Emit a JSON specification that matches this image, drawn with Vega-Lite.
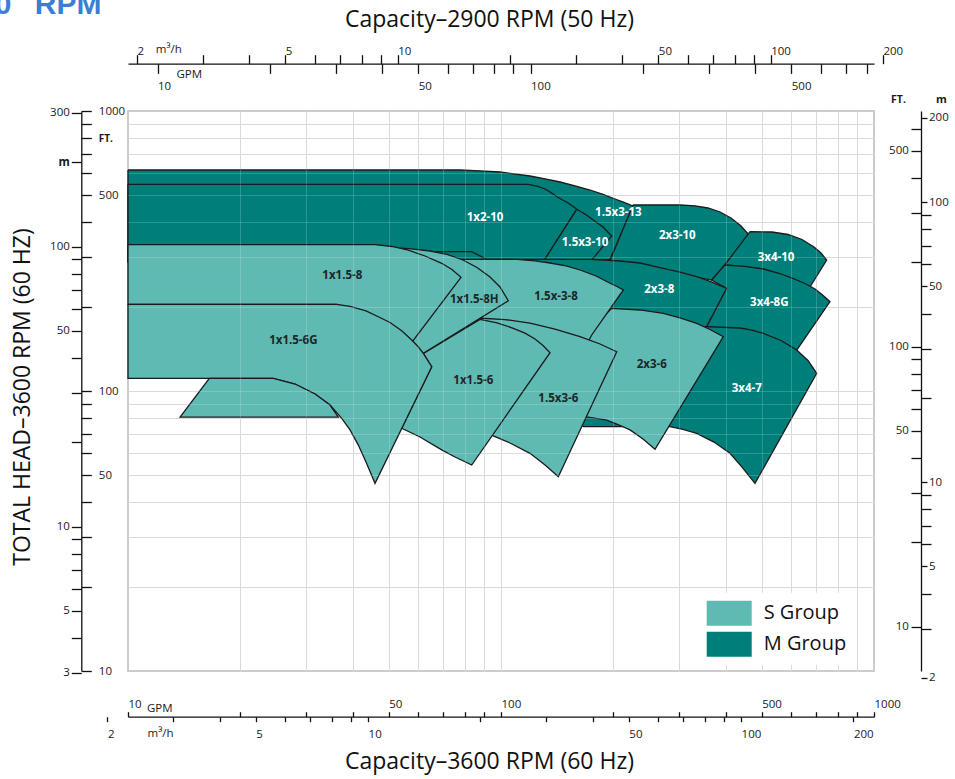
{
  "$schema": "https://vega.github.io/schema/vega-lite/v6.json",
  "width": 746,
  "height": 560,
  "autosize": {"type": "none"},
  "padding": {"left": 128, "top": 111, "right": 81, "bottom": 108},
  "background": "white",
  "config": {
    "view": {"stroke": "#cccccc", "strokeWidth": 2},
    "axis": {
      "labelFont": "Open Sans", "titleFont": "Open Sans", "labelFontSize": 11.5,
      "labelColor": "#1a1a1a", "titleColor": "#1a1a1a", "titleFontWeight": "normal",
      "domainColor": "#111111", "tickColor": "#111111", "domainWidth": 1.3, "tickWidth": 1.3,
      "labelFlush": false, "labelOverlap": false, "grid": false, "titlePadding": 0
    },
    "text": {"font": "Open Sans"}
  },
  "datasets": {
    "poly": [
      {"pump":"1.5x3-13","group":"M Group","i":0,"gpm":10,"ft":615.6},
      {"pump":"1.5x3-13","group":"M Group","i":1,"gpm":77.63,"ft":615.6},
      {"pump":"1.5x3-13","group":"M Group","i":2,"gpm":87.84,"ft":611.5},
      {"pump":"1.5x3-13","group":"M Group","i":3,"gpm":99.39,"ft":605.5},
      {"pump":"1.5x3-13","group":"M Group","i":4,"gpm":119.61,"ft":585.9},
      {"pump":"1.5x3-13","group":"M Group","i":5,"gpm":131.22,"ft":572.6},
      {"pump":"1.5x3-13","group":"M Group","i":6,"gpm":143.96,"ft":557.7},
      {"pump":"1.5x3-13","group":"M Group","i":7,"gpm":157.93,"ft":540.6},
      {"pump":"1.5x3-13","group":"M Group","i":8,"gpm":173.25,"ft":522.2},
      {"pump":"1.5x3-13","group":"M Group","i":9,"gpm":187.73,"ft":504.1},
      {"pump":"1.5x3-13","group":"M Group","i":10,"gpm":202.16,"ft":485.0},
      {"pump":"1.5x3-13","group":"M Group","i":11,"gpm":213.71,"ft":472.0},
      {"pump":"1.5x3-13","group":"M Group","i":12,"gpm":225.91,"ft":457.8},
      {"pump":"1.5x3-13","group":"M Group","i":13,"gpm":196.02,"ft":295.4},
      {"pump":"1.5x3-13","group":"M Group","i":14,"gpm":10,"ft":288.9},
      {"pump":"1.5x3-13","group":"M Group","i":15,"gpm":10,"ft":615.6},

      {"pump":"1x2-10","group":"M Group","i":0,"gpm":10,"ft":547.3},
      {"pump":"1x2-10","group":"M Group","i":1,"gpm":118.14,"ft":547.3},
      {"pump":"1x2-10","group":"M Group","i":2,"gpm":125.67,"ft":538.4},
      {"pump":"1x2-10","group":"M Group","i":3,"gpm":131.22,"ft":526.5},
      {"pump":"1x2-10","group":"M Group","i":4,"gpm":136.18,"ft":511.2},
      {"pump":"1x2-10","group":"M Group","i":5,"gpm":141.32,"ft":494.2},
      {"pump":"1x2-10","group":"M Group","i":6,"gpm":146.66,"ft":479.8},
      {"pump":"1x2-10","group":"M Group","i":7,"gpm":151.25,"ft":469.3},
      {"pump":"1x2-10","group":"M Group","i":8,"gpm":155.51,"ft":457.8},
      {"pump":"1x2-10","group":"M Group","i":9,"gpm":159.59,"ft":445.6},
      {"pump":"1x2-10","group":"M Group","i":10,"gpm":129.85,"ft":289.6},
      {"pump":"1x2-10","group":"M Group","i":11,"gpm":10,"ft":289.6},
      {"pump":"1x2-10","group":"M Group","i":12,"gpm":10,"ft":547.3},

      {"pump":"1.5x3-10","group":"M Group","i":0,"gpm":159.59,"ft":445.6},
      {"pump":"1.5x3-10","group":"M Group","i":1,"gpm":167.98,"ft":428.7},
      {"pump":"1.5x3-10","group":"M Group","i":2,"gpm":176.82,"ft":408.1},
      {"pump":"1.5x3-10","group":"M Group","i":3,"gpm":187.73,"ft":385.2},
      {"pump":"1.5x3-10","group":"M Group","i":4,"gpm":198.08,"ft":357.7},
      {"pump":"1.5x3-10","group":"M Group","i":5,"gpm":173.25,"ft":288.9},
      {"pump":"1.5x3-10","group":"M Group","i":6,"gpm":129.85,"ft":289.6},
      {"pump":"1.5x3-10","group":"M Group","i":7,"gpm":159.59,"ft":445.6},

      {"pump":"2x3-10","group":"M Group","i":0,"gpm":225.91,"ft":461.6},
      {"pump":"2x3-10","group":"M Group","i":1,"gpm":301.93,"ft":461.6},
      {"pump":"2x3-10","group":"M Group","i":2,"gpm":331.21,"ft":458.6},
      {"pump":"2x3-10","group":"M Group","i":3,"gpm":358.85,"ft":450.4},
      {"pump":"2x3-10","group":"M Group","i":4,"gpm":386.56,"ft":435.8},
      {"pump":"2x3-10","group":"M Group","i":5,"gpm":413.66,"ft":414.8},
      {"pump":"2x3-10","group":"M Group","i":6,"gpm":440.00,"ft":388.4},
      {"pump":"2x3-10","group":"M Group","i":7,"gpm":465.10,"ft":357.7},
      {"pump":"2x3-10","group":"M Group","i":8,"gpm":367.15,"ft":249.1},
      {"pump":"2x3-10","group":"M Group","i":9,"gpm":196.02,"ft":292.0},
      {"pump":"2x3-10","group":"M Group","i":10,"gpm":225.91,"ft":461.6},

      {"pump":"3x4-10","group":"M Group","i":0,"gpm":465.10,"ft":370.6},
      {"pump":"3x4-10","group":"M Group","i":1,"gpm":532.75,"ft":369.7},
      {"pump":"3x4-10","group":"M Group","i":2,"gpm":588.32,"ft":362.2},
      {"pump":"3x4-10","group":"M Group","i":3,"gpm":641.20,"ft":347.6},
      {"pump":"3x4-10","group":"M Group","i":4,"gpm":690.45,"ft":326.8},
      {"pump":"3x4-10","group":"M Group","i":5,"gpm":720.99,"ft":311.1},
      {"pump":"3x4-10","group":"M Group","i":6,"gpm":746.67,"ft":293.7},
      {"pump":"3x4-10","group":"M Group","i":7,"gpm":673.58,"ft":235.2},
      {"pump":"3x4-10","group":"M Group","i":8,"gpm":620.58,"ft":249.1},
      {"pump":"3x4-10","group":"M Group","i":9,"gpm":504.91,"ft":272.7},
      {"pump":"3x4-10","group":"M Group","i":10,"gpm":397.89,"ft":281.8},
      {"pump":"3x4-10","group":"M Group","i":11,"gpm":465.10,"ft":370.6},

      {"pump":"2x3-8","group":"M Group","i":0,"gpm":60.65,"ft":314.4},
      {"pump":"2x3-8","group":"M Group","i":1,"gpm":83.45,"ft":314.4},
      {"pump":"2x3-8","group":"M Group","i":2,"gpm":91.54,"ft":295.4},
      {"pump":"2x3-8","group":"M Group","i":3,"gpm":173.25,"ft":295.4},
      {"pump":"2x3-8","group":"M Group","i":4,"gpm":208.50,"ft":291.3},
      {"pump":"2x3-8","group":"M Group","i":5,"gpm":235.89,"ft":286.5},
      {"pump":"2x3-8","group":"M Group","i":6,"gpm":272.37,"ft":274.3},
      {"pump":"2x3-8","group":"M Group","i":7,"gpm":301.93,"ft":265.6},
      {"pump":"2x3-8","group":"M Group","i":8,"gpm":334.69,"ft":256.0},
      {"pump":"2x3-8","group":"M Group","i":9,"gpm":367.83,"ft":244.7},
      {"pump":"2x3-8","group":"M Group","i":10,"gpm":402.83,"ft":232.7},
      {"pump":"2x3-8","group":"M Group","i":11,"gpm":355.98,"ft":169.7},
      {"pump":"2x3-8","group":"M Group","i":12,"gpm":321.13,"ft":158.5},
      {"pump":"2x3-8","group":"M Group","i":13,"gpm":184.29,"ft":158.5},
      {"pump":"2x3-8","group":"M Group","i":14,"gpm":60.65,"ft":211.4},
      {"pump":"2x3-8","group":"M Group","i":15,"gpm":60.65,"ft":314.4},

      {"pump":"3x4-8G","group":"M Group","i":0,"gpm":397.89,"ft":281.8},
      {"pump":"3x4-8G","group":"M Group","i":1,"gpm":450.99,"ft":278.8},
      {"pump":"3x4-8G","group":"M Group","i":2,"gpm":504.91,"ft":272.7},
      {"pump":"3x4-8G","group":"M Group","i":3,"gpm":559.76,"ft":262.8},
      {"pump":"3x4-8G","group":"M Group","i":4,"gpm":620.58,"ft":249.1},
      {"pump":"3x4-8G","group":"M Group","i":5,"gpm":657.21,"ft":241.1},
      {"pump":"3x4-8G","group":"M Group","i":6,"gpm":694.72,"ft":231.4},
      {"pump":"3x4-8G","group":"M Group","i":7,"gpm":725.45,"ft":221.2},
      {"pump":"3x4-8G","group":"M Group","i":8,"gpm":762.05,"ft":208.4},
      {"pump":"3x4-8G","group":"M Group","i":9,"gpm":614.10,"ft":137.0},
      {"pump":"3x4-8G","group":"M Group","i":10,"gpm":504.91,"ft":160.7},
      {"pump":"3x4-8G","group":"M Group","i":11,"gpm":355.98,"ft":169.7},
      {"pump":"3x4-8G","group":"M Group","i":12,"gpm":402.83,"ft":232.7},
      {"pump":"3x4-8G","group":"M Group","i":13,"gpm":367.15,"ft":249.1},
      {"pump":"3x4-8G","group":"M Group","i":14,"gpm":397.89,"ft":281.8},

      {"pump":"3x4-7","group":"M Group","i":0,"gpm":355.98,"ft":169.7},
      {"pump":"3x4-7","group":"M Group","i":1,"gpm":437.25,"ft":167.9},
      {"pump":"3x4-7","group":"M Group","i":2,"gpm":470.87,"ft":164.9},
      {"pump":"3x4-7","group":"M Group","i":3,"gpm":504.91,"ft":160.7},
      {"pump":"3x4-7","group":"M Group","i":4,"gpm":563.22,"ft":151.5},
      {"pump":"3x4-7","group":"M Group","i":5,"gpm":620.58,"ft":140.1},
      {"pump":"3x4-7","group":"M Group","i":6,"gpm":665.38,"ft":128.5},
      {"pump":"3x4-7","group":"M Group","i":7,"gpm":702.06,"ft":115.7},
      {"pump":"3x4-7","group":"M Group","i":8,"gpm":479.70,"ft":46.8},
      {"pump":"3x4-7","group":"M Group","i":9,"gpm":442.71,"ft":53.5},
      {"pump":"3x4-7","group":"M Group","i":10,"gpm":411.12,"ft":59.9},
      {"pump":"3x4-7","group":"M Group","i":11,"gpm":372.40,"ft":65.7},
      {"pump":"3x4-7","group":"M Group","i":12,"gpm":334.69,"ft":70.6},
      {"pump":"3x4-7","group":"M Group","i":13,"gpm":307.57,"ft":73.0},
      {"pump":"3x4-7","group":"M Group","i":14,"gpm":283.86,"ft":74.6},
      {"pump":"3x4-7","group":"M Group","i":15,"gpm":166.23,"ft":74.6},
      {"pump":"3x4-7","group":"M Group","i":16,"gpm":157.93,"ft":80.1},
      {"pump":"3x4-7","group":"M Group","i":17,"gpm":184.29,"ft":158.5},
      {"pump":"3x4-7","group":"M Group","i":18,"gpm":355.98,"ft":169.7},

      {"pump":"2x3-6","group":"S Group","i":0,"gpm":198.08,"ft":197.4},
      {"pump":"2x3-6","group":"S Group","i":1,"gpm":235.89,"ft":194.7},
      {"pump":"2x3-6","group":"S Group","i":2,"gpm":272.37,"ft":189.5},
      {"pump":"2x3-6","group":"S Group","i":3,"gpm":301.93,"ft":182.6},
      {"pump":"2x3-6","group":"S Group","i":4,"gpm":334.69,"ft":174.5},
      {"pump":"2x3-6","group":"S Group","i":5,"gpm":363.31,"ft":165.8},
      {"pump":"2x3-6","group":"S Group","i":6,"gpm":394.47,"ft":156.3},
      {"pump":"2x3-6","group":"S Group","i":7,"gpm":258.76,"ft":61.9},
      {"pump":"2x3-6","group":"S Group","i":8,"gpm":240.30,"ft":67.4},
      {"pump":"2x3-6","group":"S Group","i":9,"gpm":221.77,"ft":72.6},
      {"pump":"2x3-6","group":"S Group","i":10,"gpm":205.94,"ft":75.9},
      {"pump":"2x3-6","group":"S Group","i":11,"gpm":192.07,"ft":78.7},
      {"pump":"2x3-6","group":"S Group","i":12,"gpm":169.76,"ft":80.9},
      {"pump":"2x3-6","group":"S Group","i":13,"gpm":157.93,"ft":92.9},
      {"pump":"2x3-6","group":"S Group","i":14,"gpm":167.98,"ft":158.5},
      {"pump":"2x3-6","group":"S Group","i":15,"gpm":198.08,"ft":197.4},

      {"pump":"1.5x-3-8","group":"S Group","i":0,"gpm":68.63,"ft":295.4},
      {"pump":"1.5x-3-8","group":"S Group","i":1,"gpm":110.18,"ft":295.4},
      {"pump":"1.5x-3-8","group":"S Group","i":2,"gpm":123.36,"ft":291.7},
      {"pump":"1.5x-3-8","group":"S Group","i":3,"gpm":135.34,"ft":286.5},
      {"pump":"1.5x-3-8","group":"S Group","i":4,"gpm":149.40,"ft":279.6},
      {"pump":"1.5x-3-8","group":"S Group","i":5,"gpm":162.88,"ft":270.5},
      {"pump":"1.5x-3-8","group":"S Group","i":6,"gpm":179.79,"ft":257.5},
      {"pump":"1.5x-3-8","group":"S Group","i":7,"gpm":196.02,"ft":242.5},
      {"pump":"1.5x-3-8","group":"S Group","i":8,"gpm":204.67,"ft":236.2},
      {"pump":"1.5x-3-8","group":"S Group","i":9,"gpm":212.79,"ft":229.5},
      {"pump":"1.5x-3-8","group":"S Group","i":10,"gpm":175.08,"ft":158.5},
      {"pump":"1.5x-3-8","group":"S Group","i":11,"gpm":171.12,"ft":149.6},
      {"pump":"1.5x-3-8","group":"S Group","i":12,"gpm":127.23,"ft":163.8},
      {"pump":"1.5x-3-8","group":"S Group","i":13,"gpm":85.69,"ft":177.8},
      {"pump":"1.5x-3-8","group":"S Group","i":14,"gpm":68.63,"ft":211.4},
      {"pump":"1.5x-3-8","group":"S Group","i":15,"gpm":68.63,"ft":295.4},

      {"pump":"1.5x3-6","group":"S Group","i":0,"gpm":86.76,"ft":182.3},
      {"pump":"1.5x3-6","group":"S Group","i":1,"gpm":102.50,"ft":180.0},
      {"pump":"1.5x3-6","group":"S Group","i":2,"gpm":119.61,"ft":174.9},
      {"pump":"1.5x3-6","group":"S Group","i":3,"gpm":139.58,"ft":166.5},
      {"pump":"1.5x3-6","group":"S Group","i":4,"gpm":162.88,"ft":156.3},
      {"pump":"1.5x3-6","group":"S Group","i":5,"gpm":184.29,"ft":147.2},
      {"pump":"1.5x3-6","group":"S Group","i":6,"gpm":204.29,"ft":138.1},
      {"pump":"1.5x3-6","group":"S Group","i":7,"gpm":142.46,"ft":49.4},
      {"pump":"1.5x3-6","group":"S Group","i":8,"gpm":131.22,"ft":54.4},
      {"pump":"1.5x3-6","group":"S Group","i":9,"gpm":119.61,"ft":59.9},
      {"pump":"1.5x3-6","group":"S Group","i":10,"gpm":105.71,"ft":65.2},
      {"pump":"1.5x3-6","group":"S Group","i":11,"gpm":95.36,"ft":69.1},
      {"pump":"1.5x3-6","group":"S Group","i":12,"gpm":85.17,"ft":78.7},
      {"pump":"1.5x3-6","group":"S Group","i":13,"gpm":80.07,"ft":129.0},
      {"pump":"1.5x3-6","group":"S Group","i":14,"gpm":86.76,"ft":182.3},

      {"pump":"1x1.5-6","group":"S Group","i":0,"gpm":61.90,"ft":136.3},
      {"pump":"1x1.5-6","group":"S Group","i":1,"gpm":87.84,"ft":180.3},
      {"pump":"1x1.5-6","group":"S Group","i":2,"gpm":97.56,"ft":175.2},
      {"pump":"1x1.5-6","group":"S Group","i":3,"gpm":107.89,"ft":167.5},
      {"pump":"1x1.5-6","group":"S Group","i":4,"gpm":115.95,"ft":160.9},
      {"pump":"1x1.5-6","group":"S Group","i":5,"gpm":123.36,"ft":153.4},
      {"pump":"1x1.5-6","group":"S Group","i":6,"gpm":129.61,"ft":145.4},
      {"pump":"1x1.5-6","group":"S Group","i":7,"gpm":135.34,"ft":137.0},
      {"pump":"1x1.5-6","group":"S Group","i":8,"gpm":83.45,"ft":54.4},
      {"pump":"1x1.5-6","group":"S Group","i":9,"gpm":75.28,"ft":58.1},
      {"pump":"1x1.5-6","group":"S Group","i":10,"gpm":69.35,"ft":61.6},
      {"pump":"1x1.5-6","group":"S Group","i":11,"gpm":60.65,"ft":68.5},
      {"pump":"1x1.5-6","group":"S Group","i":12,"gpm":54.17,"ft":73.6},
      {"pump":"1x1.5-6","group":"S Group","i":13,"gpm":65.20,"ft":122.1},
      {"pump":"1x1.5-6","group":"S Group","i":14,"gpm":61.90,"ft":136.3},

      {"pump":"1x1.5-8H","group":"S Group","i":0,"gpm":37.02,"ft":326.8},
      {"pump":"1x1.5-8H","group":"S Group","i":1,"gpm":49.78,"ft":326.0},
      {"pump":"1x1.5-8H","group":"S Group","i":2,"gpm":56.67,"ft":322.5},
      {"pump":"1x1.5-8H","group":"S Group","i":3,"gpm":64.52,"ft":316.2},
      {"pump":"1x1.5-8H","group":"S Group","i":4,"gpm":71.66,"ft":307.3},
      {"pump":"1x1.5-8H","group":"S Group","i":5,"gpm":79.08,"ft":293.7},
      {"pump":"1x1.5-8H","group":"S Group","i":6,"gpm":86.23,"ft":276.1},
      {"pump":"1x1.5-8H","group":"S Group","i":7,"gpm":93.44,"ft":255.4},
      {"pump":"1x1.5-8H","group":"S Group","i":8,"gpm":99.39,"ft":235.2},
      {"pump":"1x1.5-8H","group":"S Group","i":9,"gpm":104.61,"ft":210.1},
      {"pump":"1x1.5-8H","group":"S Group","i":10,"gpm":61.90,"ft":136.3},
      {"pump":"1x1.5-8H","group":"S Group","i":11,"gpm":53.60,"ft":165.1},
      {"pump":"1x1.5-8H","group":"S Group","i":12,"gpm":37.02,"ft":211.4},
      {"pump":"1x1.5-8H","group":"S Group","i":13,"gpm":37.02,"ft":326.8},

      {"pump":"1x1.5-8","group":"S Group","i":0,"gpm":10,"ft":333.1},
      {"pump":"1x1.5-8","group":"S Group","i":1,"gpm":45.95,"ft":333.1},
      {"pump":"1x1.5-8","group":"S Group","i":2,"gpm":51.02,"ft":328.2},
      {"pump":"1x1.5-8","group":"S Group","i":3,"gpm":56.43,"ft":318.8},
      {"pump":"1x1.5-8","group":"S Group","i":4,"gpm":62.56,"ft":303.5},
      {"pump":"1x1.5-8","group":"S Group","i":5,"gpm":69.35,"ft":285.8},
      {"pump":"1x1.5-8","group":"S Group","i":6,"gpm":73.89,"ft":271.6},
      {"pump":"1x1.5-8","group":"S Group","i":7,"gpm":78.11,"ft":254.7},
      {"pump":"1x1.5-8","group":"S Group","i":8,"gpm":57.84,"ft":150.0},
      {"pump":"1x1.5-8","group":"S Group","i":9,"gpm":47.39,"ft":182.3},
      {"pump":"1x1.5-8","group":"S Group","i":10,"gpm":36.27,"ft":204.0},
      {"pump":"1x1.5-8","group":"S Group","i":11,"gpm":10,"ft":204.0},
      {"pump":"1x1.5-8","group":"S Group","i":12,"gpm":10,"ft":333.1},

      {"pump":"1x1.5-6G","group":"S Group","i":0,"gpm":10,"ft":204.0},
      {"pump":"1x1.5-6G","group":"S Group","i":1,"gpm":36.27,"ft":204.0},
      {"pump":"1x1.5-6G","group":"S Group","i":2,"gpm":39.38,"ft":200.7},
      {"pump":"1x1.5-6G","group":"S Group","i":3,"gpm":43.46,"ft":193.1},
      {"pump":"1x1.5-6G","group":"S Group","i":4,"gpm":46.90,"ft":184.2},
      {"pump":"1x1.5-6G","group":"S Group","i":5,"gpm":50.39,"ft":175.6},
      {"pump":"1x1.5-6G","group":"S Group","i":6,"gpm":54.27,"ft":163.8},
      {"pump":"1x1.5-6G","group":"S Group","i":7,"gpm":57.62,"ft":152.1},
      {"pump":"1x1.5-6G","group":"S Group","i":8,"gpm":59.91,"ft":144.2},
      {"pump":"1x1.5-6G","group":"S Group","i":9,"gpm":61.90,"ft":136.3},
      {"pump":"1x1.5-6G","group":"S Group","i":10,"gpm":65.20,"ft":122.1},
      {"pump":"1x1.5-6G","group":"S Group","i":11,"gpm":45.95,"ft":46.8},
      {"pump":"1x1.5-6G","group":"S Group","i":12,"gpm":43.46,"ft":55.8},
      {"pump":"1x1.5-6G","group":"S Group","i":13,"gpm":41.45,"ft":64.1},
      {"pump":"1x1.5-6G","group":"S Group","i":14,"gpm":39.38,"ft":72.6},
      {"pump":"1x1.5-6G","group":"S Group","i":15,"gpm":37.41,"ft":79.9},
      {"pump":"1x1.5-6G","group":"S Group","i":16,"gpm":34.80,"ft":89.1},
      {"pump":"1x1.5-6G","group":"S Group","i":17,"gpm":31.73,"ft":97.6},
      {"pump":"1x1.5-6G","group":"S Group","i":18,"gpm":28.04,"ft":105.9},
      {"pump":"1x1.5-6G","group":"S Group","i":19,"gpm":24.52,"ft":111.0},
      {"pump":"1x1.5-6G","group":"S Group","i":20,"gpm":10,"ft":111.0},
      {"pump":"1x1.5-6G","group":"S Group","i":21,"gpm":10,"ft":204.0},

      {"pump":"1x1.5-6G-b","group":"S Group","i":0,"gpm":16.52,"ft":111.0},
      {"pump":"1x1.5-6G-b","group":"S Group","i":1,"gpm":24.52,"ft":111.0},
      {"pump":"1x1.5-6G-b","group":"S Group","i":2,"gpm":28.04,"ft":105.9},
      {"pump":"1x1.5-6G-b","group":"S Group","i":3,"gpm":31.73,"ft":97.6},
      {"pump":"1x1.5-6G-b","group":"S Group","i":4,"gpm":34.80,"ft":89.1},
      {"pump":"1x1.5-6G-b","group":"S Group","i":5,"gpm":36.63,"ft":80.7},
      {"pump":"1x1.5-6G-b","group":"S Group","i":6,"gpm":13.79,"ft":80.7},
      {"pump":"1x1.5-6G-b","group":"S Group","i":7,"gpm":16.52,"ft":111.0}
    ],
    "labels": [
      {"pump":"1x2-10","group":"M Group","gpm":90.59,"ft":415.9},
      {"pump":"1.5x3-13","group":"M Group","gpm":206.32,"ft":433.3},
      {"pump":"1.5x3-10","group":"M Group","gpm":167.98,"ft":338.6},
      {"pump":"2x3-10","group":"M Group","gpm":296.94,"ft":357.7},
      {"pump":"3x4-10","group":"M Group","gpm":546.07,"ft":299.3},
      {"pump":"2x3-8","group":"M Group","gpm":265.73,"ft":229.5},
      {"pump":"3x4-8G","group":"M Group","gpm":523.96,"ft":206.7},
      {"pump":"3x4-7","group":"M Group","gpm":455.72,"ft":101.9},
      {"pump":"1x1.5-8","group":"S Group","gpm":37.55,"ft":257.5},
      {"pump":"1x1.5-8H","group":"S Group","gpm":84.80,"ft":211.4},
      {"pump":"1x1.5-6G","group":"S Group","gpm":27.75,"ft":150.9},
      {"pump":"1x1.5-6","group":"S Group","gpm":84.28,"ft":108.8},
      {"pump":"1.5x-3-8","group":"S Group","gpm":140.45,"ft":217.2},
      {"pump":"1.5x3-6","group":"S Group","gpm":142.46,"ft":93.4},
      {"pump":"2x3-6","group":"S Group","gpm":253.55,"ft":123.8}
    ]
  },
  "resolve": {"scale": {"x": "independent", "y": "independent", "fill": "shared"}},
  "layer": [
    {
      "data": {"name": "poly"},
      "transform": [{"filter": "datum.group === 'M Group'"}],
      "mark": {"type": "line", "stroke": "#1a1a1a", "strokeWidth": 1.3},
      "encoding": {
        "x": {"field": "gpm", "type": "quantitative",
          "scale": {"type": "log", "domain": [10, 1000], "nice": false},
          "axis": {"grid": true, "gridColor": "#d2d2d2", "gridWidth": 1, "domain": false, "ticks": false, "labels": false, "title": null,
            "values": [20,30,40,50,60,70,80,90,100,200,300,400,500,600,700,800,900]}},
        "y": {"field": "ft", "type": "quantitative",
          "scale": {"type": "log", "domain": [10, 1000], "nice": false},
          "axis": {"grid": true, "gridColor": "#d2d2d2", "gridWidth": 1, "domain": false, "ticks": false, "labels": false, "title": null,
            "values": [20,30,40,50,60,70,80,90,100,200,300,400,500,600,700,800,900]}},
        "detail": {"field": "pump"},
        "order": {"field": "i", "type": "quantitative"},
        "fill": {"field": "group", "type": "nominal",
          "scale": {"domain": ["S Group", "M Group"], "range": ["#5fbab4", "#007f7a"]},
          "legend": {"title": null, "orient": "none", "legendX": 570.7, "legendY": 481.7,
            "symbolType": "M-1,-1H2.6V1H-1Z", "symbolSize": 625, "symbolStrokeColor": "transparent", "symbolStrokeWidth": 0, "symbolOpacity": 1,
            "labelFont": "Open Sans", "labelFontSize": 20, "labelColor": "#111111", "labelOffset": 32, "rowPadding": 6,
            "padding": 8, "fillColor": "white", "zindex": 2}}
      }
    },
    {
      "data": {"name": "poly"},
      "transform": [{"filter": "datum.group === 'S Group'"}],
      "mark": {"type": "line", "stroke": "#1a1a1a", "strokeWidth": 1.3},
      "encoding": {
        "x": {"field": "gpm", "type": "quantitative",
          "scale": {"type": "log", "domain": [10, 1000], "nice": false},
          "axis": {"grid": true, "gridColor": "#ffffff", "gridOpacity": 0.18, "gridWidth": 1, "zindex": 1, "domain": false, "ticks": false, "labels": false, "title": null,
            "values": [20,30,40,50,60,70,80,90,100,200,300,400,500,600,700,800,900]}},
        "y": {"field": "ft", "type": "quantitative",
          "scale": {"type": "log", "domain": [10, 1000], "nice": false},
          "axis": {"grid": true, "gridColor": "#ffffff", "gridOpacity": 0.18, "gridWidth": 1, "zindex": 1, "domain": false, "ticks": false, "labels": false, "title": null,
            "values": [20,30,40,50,60,70,80,90,100,200,300,400,500,600,700,800,900]}},
        "detail": {"field": "pump"},
        "order": {"field": "i", "type": "quantitative"},
        "fill": {"field": "group", "type": "nominal",
          "scale": {"domain": ["S Group", "M Group"], "range": ["#5fbab4", "#007f7a"]},
          "legend": {"title": null, "orient": "none", "legendX": 570.7, "legendY": 481.7,
            "symbolType": "M-1,-1H2.6V1H-1Z", "symbolSize": 625, "symbolStrokeColor": "transparent", "symbolStrokeWidth": 0, "symbolOpacity": 1,
            "labelFont": "Open Sans", "labelFontSize": 20, "labelColor": "#111111", "labelOffset": 32, "rowPadding": 6,
            "padding": 8, "fillColor": "white", "zindex": 2}}
      }
    },
    {
      "data": {"name": "labels"},
      "mark": {"type": "text", "fontWeight": "bold", "fontSize": 11.5, "font": "Open Sans", "align": "center", "baseline": "middle"},
      "encoding": {
        "x": {"field": "gpm", "type": "quantitative", "scale": {"type": "log", "domain": [10, 1000], "nice": false}, "axis": null},
        "y": {"field": "ft", "type": "quantitative", "scale": {"type": "log", "domain": [10, 1000], "nice": false}, "axis": null},
        "text": {"field": "pump"},
        "color": {"condition": {"test": "datum.group === 'M Group'", "value": "#ffffff"}, "value": "#1c2626"}
      }
    },
    {
      "data": {"name": "labels"},
      "mark": {"type": "point", "opacity": 0},
      "encoding": {
        "x": {"field": "gpm", "type": "quantitative",
          "scale": {"type": "log", "domain": [10, 1000], "nice": false},
          "axis": {"orient": "top", "offset": -605.7, "values": [10,20,30,40,50,60,70,80,90,100,200,300,400,500,600,700,800,900,1000],
            "tickSize": 5, "labelAlign": "left", "labelBaseline": "alphabetic", "labelPadding": 4.3,
            "labelExpr": "indexof([10,50,100,500,1000], datum.value) >= 0 ? '' + datum.value : ''",
            "domain": true, "title": "GPM", "titleX": 31.3, "titleY": -8.7, "titleAlign": "center", "titleBaseline": "middle", "titleFontSize": 11.5, "titleAngle": 0}},
        "y": {"field": "ft", "type": "quantitative",
          "scale": {"type": "log", "domain": [2.8, 320], "range": [570.32, -5.92], "nice": false},
          "axis": {"orient": "left", "offset": 46.7, "values": [3,4,5,6,7,8,9,10,20,30,40,50,60,70,80,90,100,200,300],
            "tickSize": 10, "labelAlign": "right", "labelBaseline": "middle", "labelPadding": 2,
            "labelExpr": "datum.value == 200 ? 'm' : (indexof([3,5,10,50,100,300], datum.value) >= 0 ? '' + datum.value : '')",
            "labelFontWeight": {"condition": {"test": "datum.value == 200", "value": "bold"}, "value": "normal"},
            "domain": false, "title": null}}
      }
    },
    {
      "data": {"name": "labels"},
      "mark": {"type": "point", "opacity": 0},
      "encoding": {
        "x": {"field": "gpm", "type": "quantitative",
          "scale": {"type": "log", "domain": [1.8, 250], "range": [-37.67, 761.55], "nice": false},
          "axis": {"orient": "bottom", "offset": 45.7, "values": [2,3,4,5,6,7,8,9,10,20,30,40,50,60,70,80,90,100,200],
            "tickSize": 5, "labelAlign": "left", "labelBaseline": "alphabetic", "labelPadding": 15.7,
            "labelExpr": "indexof([2,5,10,50,100,200], datum.value) >= 0 ? '' + datum.value : ''",
            "domain": false, "title": "m³/h", "titleX": 32, "titleY": 16.3, "titleAlign": "center", "titleBaseline": "middle", "titleFontSize": 11.5, "titleAngle": 0}},
        "y": {"field": "ft", "type": "quantitative",
          "scale": {"type": "log", "domain": [10, 1000], "nice": false},
          "axis": {"orient": "right", "offset": -792.7, "values": [10,20,30,40,50,60,70,80,90,100,200,300,400,500,600,700,800,900,1000],
            "tickSize": 10, "labelAlign": "left", "labelBaseline": "middle", "labelPadding": 7,
            "labelExpr": "datum.value == 800 ? 'FT.' : (indexof([10,50,100,500,1000], datum.value) >= 0 ? '' + datum.value : '')",
            "labelFontWeight": {"condition": {"test": "datum.value == 800", "value": "bold"}, "value": "normal"},
            "labelFontSize": {"condition": {"test": "datum.value == 800", "value": 10}, "value": 11.5},
            "domain": true, "title": null}}
      }
    },
    {
      "data": {"name": "labels"},
      "mark": {"type": "point", "opacity": 0},
      "encoding": {
        "x": {"field": "gpm", "type": "quantitative",
          "scale": {"type": "log", "domain": [1.8, 250], "range": [-8.13, 791.09], "nice": false},
          "axis": {"orient": "top", "offset": 47.3, "values": [2,3,4,5,6,7,8,9,10,20,30,40,50,60,70,80,90,100,200],
            "tickSize": 9, "labelAlign": "left", "labelBaseline": "alphabetic", "labelPadding": 0,
            "labelExpr": "indexof([2,5,10,50,100,200], datum.value) >= 0 ? '' + datum.value : ''",
            "domain": false, "title": "m³/h", "titleX": 40.3, "titleY": -13.7, "titleAlign": "center", "titleBaseline": "middle", "titleFontSize": 11.5, "titleAngle": 0}},
        "y": {"field": "ft", "type": "quantitative",
          "scale": {"type": "log", "domain": [6.9444, 694.44], "nice": false},
          "axis": {"orient": "left", "offset": -793, "values": [10,20,30,40,50,60,70,80,90,100,200,300,400,500,600],
            "tickSize": 10, "labelAlign": "right", "labelBaseline": "middle", "labelPadding": 2.7,
            "labelExpr": "indexof([10,50,100,500], datum.value) >= 0 ? '' + datum.value : ''",
            "domain": true, "title": "FT.", "titleX": -23, "titleY": -12, "titleAngle": 0, "titleAlign": "center", "titleBaseline": "middle", "titleFontSize": 10.5, "titleFontWeight": "bold"}}
      }
    },
    {
      "data": {"name": "labels"},
      "mark": {"type": "point", "opacity": 0},
      "encoding": {
        "x": {"field": "gpm", "type": "quantitative",
          "scale": {"type": "log", "domain": [8.3333, 833.33], "nice": false},
          "axis": {"orient": "bottom", "offset": -607.3, "values": [10,20,30,40,50,60,70,80,90,100,200,300,400,500,600,700,800],
            "tickSize": 9.7, "labelAlign": "left", "labelBaseline": "alphabetic", "labelPadding": 15.7,
            "labelExpr": "indexof([10,50,100,500], datum.value) >= 0 ? '' + datum.value : ''",
            "domain": true, "title": "GPM", "titleX": 60.8, "titleY": 11, "titleAlign": "center", "titleBaseline": "middle", "titleFontSize": 11.5, "titleAngle": 0}},
        "y": {"field": "ft", "type": "quantitative",
          "scale": {"type": "log", "domain": [1.8, 250], "range": [579.7, -20.24], "nice": false},
          "axis": {"orient": "right", "offset": 47, "values": [2,3,4,5,6,7,8,9,10,20,30,40,50,60,70,80,90,100,200],
            "tickSize": {"condition": {"test": "indexof([2,5,10,50,100,200], datum.value) >= 0", "value": 6}, "value": 10},
            "labelAlign": "left", "labelBaseline": "middle", "labelPadding": 1.5,
            "labelExpr": "indexof([2,5,10,50,100,200], datum.value) >= 0 ? '' + datum.value : ''",
            "domain": false, "title": "m", "titleX": 20, "titleY": -12, "titleAngle": 0, "titleAlign": "center", "titleBaseline": "middle", "titleFontSize": 11, "titleFontWeight": "bold"}}
      }
    },
    {
      "data": {"name": "labels"},
      "mark": {"type": "point", "opacity": 0},
      "encoding": {
        "x": {"field": "gpm", "type": "quantitative",
          "scale": {"type": "log", "domain": [10, 1000], "nice": false},
          "axis": {"orient": "bottom", "offset": 0, "domain": false, "ticks": false, "labels": false,
            "title": "Capacity–3600 RPM (60 Hz)", "titleX": 361, "titleY": 90, "titleAlign": "center", "titleBaseline": "middle", "titleFontSize": 23, "titleAngle": 0, "titleColor": "#111111"}},
        "y": {"field": "ft", "type": "quantitative",
          "scale": {"type": "log", "domain": [10, 1000], "nice": false},
          "axis": {"orient": "left", "offset": 0, "domain": false, "ticks": false, "labels": false,
            "title": "TOTAL HEAD–3600 RPM (60 HZ)", "titleX": -106, "titleY": 285.5, "titleAngle": 270, "titleAlign": "center", "titleBaseline": "middle", "titleFontSize": 23, "titleColor": "#111111"}}
      }
    },
    {
      "data": {"name": "labels"},
      "mark": {"type": "point", "opacity": 0},
      "encoding": {
        "x": {"field": "gpm", "type": "quantitative",
          "scale": {"type": "log", "domain": [10, 1000], "nice": false},
          "axis": {"orient": "top", "offset": 0, "domain": false, "ticks": false, "labels": false,
            "title": "Capacity–2900 RPM (50 Hz)", "titleX": 361, "titleY": -92, "titleAlign": "center", "titleBaseline": "middle", "titleFontSize": 23, "titleAngle": 0, "titleColor": "#111111"}},
        "y": {"field": "ft", "type": "quantitative",
          "scale": {"type": "log", "domain": [10, 1000], "nice": false},
          "axis": {"orient": "left", "offset": 0, "domain": false, "ticks": false, "labels": false,
            "title": "3600\u2002\u00a0RPM", "titleX": -27, "titleY": -97.7, "titleAngle": 0, "titleAlign": "right", "titleBaseline": "alphabetic",
            "titleFontSize": 30, "titleFontWeight": "bold", "titleFont": "Liberation Sans", "titleColor": "#3b7fd4"}}
      }
    }
  ]
}
